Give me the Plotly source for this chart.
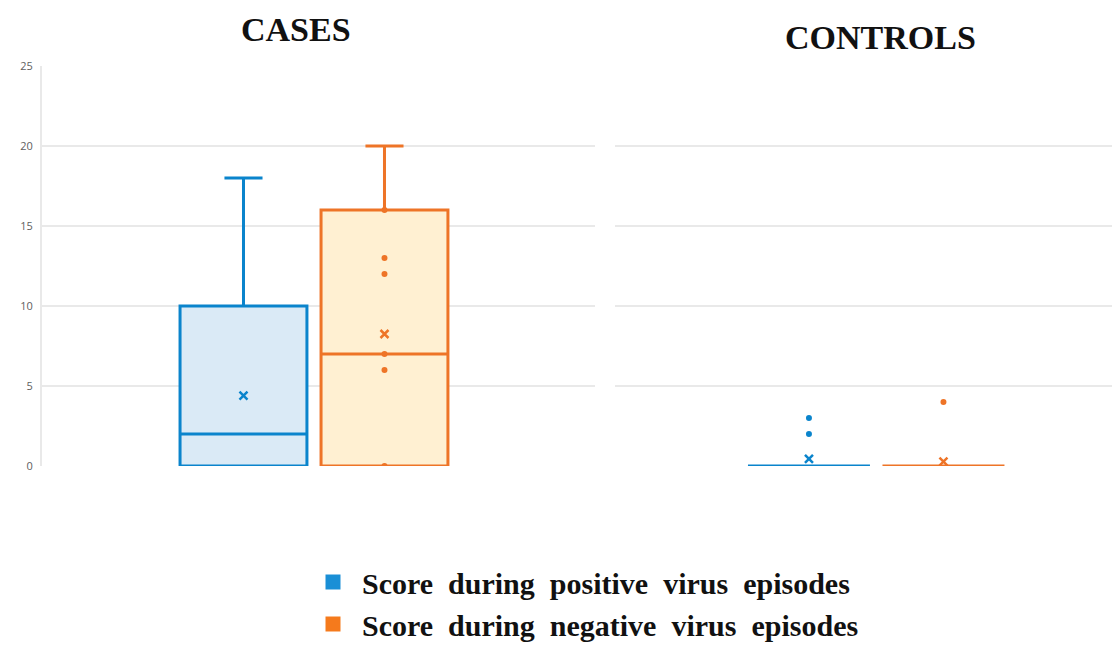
import plotly.graph_objects as go

# ---- data ----
groups = ["CASES", "CONTROLS"]
series_names = ["Score during positive virus episodes", "Score during negative virus episodes"]
series_keys = ["positive", "negative"]

pos_q1 = [0, 0]
pos_median = [2, 0]
pos_q3 = [10, 0]
pos_lower = [0, 0]
pos_upper = [18, 0]
pos_mean = [4.4, 0.45]
pos_points = [[], [2, 3]]

neg_q1 = [0, 0]
neg_median = [7, 0]
neg_q3 = [16, 0]
neg_lower = [0, 0]
neg_upper = [20, 0]
neg_mean = [8.25, 0.28]
neg_points = [[0, 6, 7, 12, 13, 16], [4]]

y_ticks = [0, 5, 10, 15, 20, 25]

# ---- styles / layout helpers ----
W, H = 1104, 634          # figure size (page has 8px body margin)


def px(xs):
    return (xs - 8) / W


def py(ys):
    return 1 - (ys - 8) / H


line_colors = ["#0A84CC", "#EE7427"]
fill_colors = ["#DAEAF6", "#FFF0D2"]
legend_colors = ["#1A8FD6", "#F57A1C"]

stats = [
    (pos_q1, pos_median, pos_q3, pos_lower, pos_upper, pos_mean, pos_points),
    (neg_q1, neg_median, neg_q3, neg_lower, neg_upper, neg_mean, neg_points),
]

fig = go.Figure()
axes = [("x", "y"), ("x2", "y2")]
box_widths = [0.90, 0.907]

for gi, g in enumerate(groups):
    xa, ya = axes[gi]
    for si, key in enumerate(series_keys):
        q1, med, q3, lo, up, mean, pts = stats[si]
        fig.add_trace(go.Box(
            x=[key], q1=[q1[gi]], median=[med[gi]], q3=[q3[gi]],
            lowerfence=[lo[gi]], upperfence=[up[gi]],
            width=box_widths[gi], whiskerwidth=0.3,
            line=dict(color=line_colors[si], width=3),
            fillcolor=fill_colors[si],
            xaxis=xa, yaxis=ya, showlegend=False, hoverinfo="skip",
        ))
        if pts[gi]:
            fig.add_trace(go.Scatter(
                x=[key] * len(pts[gi]), y=pts[gi], mode="markers",
                marker=dict(color=line_colors[si], size=6, symbol="circle"),
                xaxis=xa, yaxis=ya, showlegend=False, hoverinfo="skip",
            ))
        fig.add_trace(go.Scatter(
            x=[key], y=[mean[gi]], mode="markers",
            marker=dict(color=line_colors[si], size=8, symbol="x-thin",
                        line=dict(color=line_colors[si], width=2.5)),
            xaxis=xa, yaxis=ya, showlegend=False, hoverinfo="skip",
        ))

# legend entries (wider word spacing as in the original)
for si, name in enumerate(series_names):
    fig.add_trace(go.Scatter(
        x=[None], y=[None], mode="markers", name=" \u00a0".join(name.split(" ")),
        marker=dict(color=legend_colors[si], size=15, symbol="square"),
        xaxis="x", yaxis="y",
    ))

grid = "#E9E9E9"
ydom = [py(466), py(66)]
yax_common = dict(range=[0, 25], tickvals=y_ticks, showgrid=True, gridcolor=grid,
                  gridwidth=2, zeroline=False, automargin=False,
                  domain=ydom, fixedrange=True)
xax_common = dict(type="category", showticklabels=False, showgrid=False,
                  zeroline=False, automargin=False, ticks="",
                  categoryorder="array", categoryarray=series_keys)

title_font = dict(family="Liberation Serif", size=34, color="#111111", weight="bold")

fig.update_layout(
    width=W, height=H,
    margin=dict(l=0, r=0, t=0, b=0, autoexpand=False),
    paper_bgcolor="white", plot_bgcolor="white",
    boxmode="overlay",
    xaxis=dict(domain=[px(42), px(595)], range=[-1.429, 2.493], **xax_common),
    xaxis2=dict(domain=[px(615), 1.0], range=[-1.442, 2.253], **xax_common),
    yaxis=dict(anchor="x", showline=True, linecolor=grid, linewidth=2,
               tickfont=dict(family="Open Sans", size=11, color="#606060"),
               ticks="", ticklabelstandoff=5, **yax_common),
    yaxis2=dict(anchor="x2", showticklabels=False, showline=False, **yax_common),
    legend=dict(x=px(304), y=py(556), xanchor="left", yanchor="top",
                font=dict(family="Liberation Serif", size=30, color="#111111", weight="bold"),
                bgcolor="rgba(0,0,0,0)", itemwidth=48),
    annotations=[
        dict(text=groups[0], x=px(296), y=py(29), xref="paper", yref="paper",
             showarrow=False, xanchor="center", yanchor="middle", font=title_font),
        dict(text=groups[1], x=px(880), y=py(37), xref="paper", yref="paper",
             showarrow=False, xanchor="center", yanchor="middle", font=title_font),
    ],
)

fig.write_html("out.html")
